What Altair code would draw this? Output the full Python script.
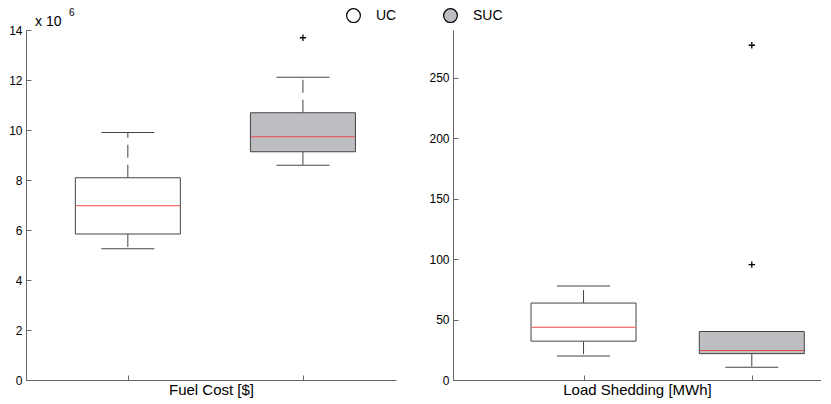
import altair as alt
import pandas as pd

# ---------------- data ----------------
groups = ["UC", "SUC"]
positions = [1, 2]

# Fuel cost (x 10^6 $)
fuel_q1 = [5.84, 9.13]
fuel_med = [6.97, 9.73]
fuel_q3 = [8.09, 10.69]
fuel_lo = [5.25, 8.59]
fuel_hi = [9.90, 12.11]
fuel_out_pos = [2]
fuel_out_val = [13.69]

# Load shedding (MWh)
shed_q1 = [32.1, 21.8]
shed_med = [43.7, 24.3]
shed_q3 = [63.6, 40.1]
shed_lo = [19.9, 10.5]
shed_hi = [77.7, 40.1]
shed_out_pos = [2, 2]
shed_out_val = [95.4, 276.7]

fuel_ticks = [0, 2, 4, 6, 8, 10, 12, 14]
shed_ticks = [0, 50, 100, 150, 200, 250]
fuel_xlim = [0.447, 2.503]
shed_xlim = [0.254, 2.3815]
fuel_ylim = [0, 14]
shed_ylim = [0, 289.3]

FONT = "Liberation Sans"
BOX_STROKE = "#444444"
AXIS_COLOR = "#666666"
FILLS = ["white", "#bdbec1"]
MEDIAN = "#ee4a4c"
PLUS = "M-1,0L1,0M0,-1L0,1"
H = 350
NOVIEW = alt.ViewBackground(stroke="transparent", strokeWidth=0)


def panel(q1, med, q3, lo, hi, opos, oval, ticks, xlim, ylim, title, width, show_legend):
    df = pd.DataFrame({"group": groups, "pos": positions, "q1": q1, "med": med,
                       "q3": q3, "lo": lo, "hi": hi})
    odf = pd.DataFrame({"pos": opos, "val": oval})
    xenc = alt.X("pos:Q", scale=alt.Scale(domain=xlim, nice=False, zero=False),
                 axis=alt.Axis(values=[1, 2], labels=False, grid=False, title=title,
                               tickSize=alt.ExprRef(expr="-5"), tickColor=AXIS_COLOR,
                               domainColor=AXIS_COLOR, titleFont=FONT, titleFontSize=15,
                               titleFontWeight="normal", titleColor="black", titlePadding=2))
    yscale = alt.Scale(domain=ylim, nice=False, zero=False)
    yaxis = alt.Axis(values=ticks, grid=False, title=None, tickSize=alt.ExprRef(expr="-5"),
                     tickColor=AXIS_COLOR, domainColor=AXIS_COLOR, labelFont=FONT,
                     labelFontSize=12, labelColor="black", labelPadding=9)
    base = alt.Chart(df)
    upper = base.mark_rule(color=BOX_STROKE, strokeDash=[13, 7], strokeWidth=1).encode(
        x=xenc, y=alt.Y("q3:Q", scale=yscale, axis=yaxis), y2="hi:Q")
    lower = base.mark_rule(color=BOX_STROKE, strokeDash=[13, 7], strokeWidth=1).encode(
        x="pos:Q", y="q1:Q", y2="lo:Q")
    box = base.mark_bar(size=105, stroke=BOX_STROKE, strokeWidth=1, opacity=1).encode(
        x="pos:Q", y="q1:Q", y2="q3:Q",
        fill=alt.Fill("group:N", scale=alt.Scale(domain=groups, range=FILLS),
                      legend=alt.Legend(title=None, orient="none", direction="horizontal",
                                        legendX=320, legendY=-22, symbolType="circle",
                                        symbolSize=190, symbolStrokeColor="black",
                                        symbolStrokeWidth=1.2, labelFont=FONT,
                                        labelFontSize=14, labelColor="black",
                                        labelOffset=15, columnPadding=44) if show_legend else None))
    med_tick = base.mark_tick(color=MEDIAN, size=104, thickness=1, orient="horizontal",
                              opacity=1).encode(x="pos:Q", y="med:Q")
    cap_hi = base.mark_tick(color=BOX_STROKE, size=53, thickness=1, orient="horizontal",
                            opacity=1).encode(x="pos:Q", y="hi:Q")
    cap_lo = base.mark_tick(color=BOX_STROKE, size=53, thickness=1, orient="horizontal",
                            opacity=1).encode(x="pos:Q", y="lo:Q")
    outl = alt.Chart(odf).mark_point(shape=PLUS, size=40, filled=False, stroke="black",
                                     strokeWidth=1.3, opacity=1).encode(x="pos:Q", y="val:Q")
    layers = [upper, lower, box, med_tick, cap_hi, cap_lo, outl]
    if show_legend:
        ann = pd.DataFrame({"t": ["x 10"]})
        sup = pd.DataFrame({"t": ["6"]})
        t1 = alt.Chart(ann).mark_text(font=FONT, fontSize=14, align="left", baseline="alphabetic",
                                      color="black").encode(text="t:N", x=alt.value(9), y=alt.value(-4))
        t2 = alt.Chart(sup).mark_text(font=FONT, fontSize=10, align="left", baseline="alphabetic",
                                      color="black").encode(text="t:N", x=alt.value(43), y=alt.value(-14))
        layers += [t1, t2]
    return alt.layer(*layers).properties(width=width, height=H, view=NOVIEW)


left = panel(fuel_q1, fuel_med, fuel_q3, fuel_lo, fuel_hi, fuel_out_pos, fuel_out_val,
             fuel_ticks, fuel_xlim, fuel_ylim, "Fuel Cost [$]", 370, True)
right = panel(shed_q1, shed_med, shed_q3, shed_lo, shed_hi, shed_out_pos, shed_out_val,
              shed_ticks, shed_xlim, shed_ylim, "Load Shedding [MWh]", 368, False)

chart = alt.hconcat(left, right, spacing=57, bounds="flush").resolve_scale(
    x="independent", y="independent", fill="independent"
).properties(padding=0, background="white").configure_view(stroke="transparent", strokeWidth=0)

chart.save("out.html", embed_options={"renderer": "svg", "actions": False})
